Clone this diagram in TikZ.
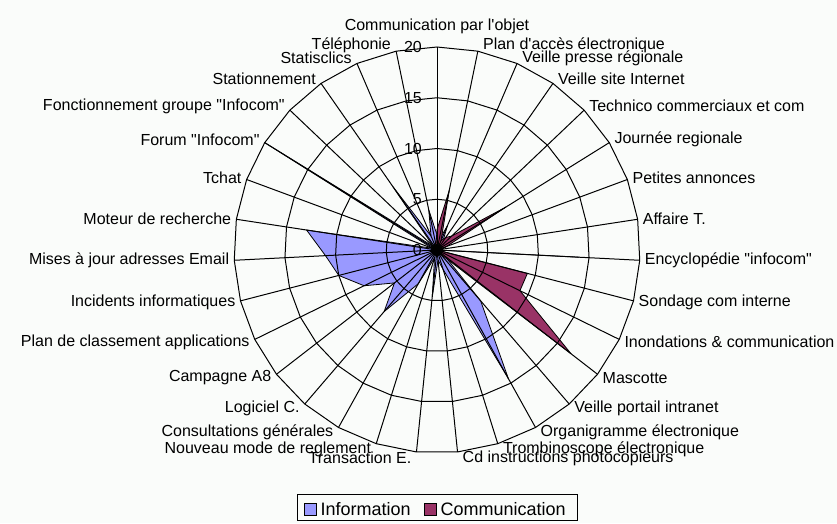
\documentclass[tikz,border=0pt]{standalone}
\usepackage{tikz}
\usetikzlibrary{positioning}
\font\labfont="Liberation Sans" at 16pt
\font\keyfont="Liberation Sans" at 18pt
\definecolor{infoblue}{HTML}{9999FF}
\definecolor{commred}{HTML}{993366}
\definecolor{paper}{HTML}{FAFCFA}
\tikzset{
  lab/.style={font=\labfont, inner sep=1pt},
  scalelab/.style={font=\labfont, inner sep=1pt, anchor=east},
  radar/.style={draw=black, line width=1pt},
  ser/.style={draw=black, line width=0.8pt, line join=round},
  keybox/.style={draw=black, line width=0.8pt, minimum size=12pt, inner sep=0pt},
  keytext/.style={font=\keyfont, inner sep=1pt}
}
\begin{document}
\begin{tikzpicture}[x=1pt,y=1pt]
\useasboundingbox (-437,-273) rectangle (400,250);
\fill[paper] (-437,-273) rectangle (400,250);
\def\sc{10.15}

\filldraw[ser, fill=infoblue] (90:1.5*\sc) \foreach \v [count=\k] in {1,2.6,1,0.5,0.5,1,0,14,0,1,1,6.6,14.5,2,1,4.6,0.8,3.8,8,5.3,8,10,11,13,0.5,20,0.5,7.6,1.5,4} { -- ({90-\k*360/31}:\v*\sc) } -- cycle;
\filldraw[ser, fill=commred] (90:2*\sc) \foreach \v [count=\k] in {6,1,1.5,2,8,1,0.5,0,9.2,9.1,16.7,0.5,0.3,0.3,0.3,0.3,0.3,0.3,0.3,0.3,0.3,0.3,0.3,0.3,0.3,0.3,0.3,0.3,0.3,0.5} { -- ({90-\k*360/31}:\v*\sc) } -- cycle;

\foreach \r in {5,10,15,20}
  \draw[radar] (90:\r*\sc) \foreach \k in {1,...,30} { -- ({90-\k*360/31}:\r*\sc) } -- cycle;
\foreach \k in {0,...,30}
  \draw[radar] (0,0) -- ({90-\k*360/31}:20*\sc);
\node[circle, fill=black, minimum size=12pt, inner sep=0pt] (hub) at (0,0) {};

\node[scalelab] (s0) at (-14,0) {0};
\node[scalelab] (s5) at (-14,50.75) {5};
\node[scalelab] (s10) at (-14,101.5) {10};
\node[scalelab] (s15) at (-14,152.25) {15};
\node[scalelab] (s20) at (-14,203) {20};

\node[lab, anchor=south] (l0) at (0,215) {Communication par l'objet};
\node[lab, anchor=west] (l1) at (44.9,204.7) {Plan d'accès électronique};
\node[lab, anchor=west] (l2) at (84.1,192.1) {Veille presse régionale};
\node[lab, anchor=west] (l3) at (120,171.5) {Veille site Internet};
\node[lab, anchor=west] (l4) at (151.1,144) {Technico commerciaux et com};
\node[lab, anchor=west] (l5) at (176.3,110.6) {Journée regionale};
\node[lab, anchor=west] (l6) at (194.4,72.6) {Petites annonces};
\node[lab, anchor=west] (l7) at (204.7,31.6) {Affaire T.};
\node[lab, anchor=west] (l8) at (206.7,-10.6) {Encyclopédie "infocom"};
\node[lab, anchor=west] (l9) at (200.5,-52.4) {Sondage com interne};
\node[lab, anchor=west] (l10) at (186.3,-92) {Inondations \& communication};
\node[lab, anchor=west] (l11) at (164.5,-128) {Mascotte};
\node[lab, anchor=west] (l12) at (136.2,-158.6) {Veille portail intranet};
\node[lab, anchor=west] (l13) at (102.5,-182.7) {Organigramme électronique};
\node[lab, anchor=west] (l14) at (64.8,-199.4) {Trombinoscope électronique};
\node[lab, anchor=west] (l15) at (24.5,-208) {Cd instructions photocopieurs};
\node[lab, anchor=east] (l16) at (-24.5,-208) {Transaction E.};
\node[lab, anchor=east] (l17) at (-64.8,-199.4) {Nouveau mode de reglement};
\node[lab, anchor=east] (l18) at (-102.5,-182.7) {Consultations générales};
\node[lab, anchor=east] (l19) at (-136.2,-158.6) {Logiciel C.};
\node[lab, anchor=east] (l20) at (-164.5,-128) {Campagne A8};
\node[lab, anchor=east] (l21) at (-186.3,-92) {Plan de classement applications};
\node[lab, anchor=east] (l22) at (-200.5,-52.4) {Incidents informatiques};
\node[lab, anchor=east] (l23) at (-206.7,-10.6) {Mises à jour adresses Email};
\node[lab, anchor=east] (l24) at (-204.7,31.6) {Moteur de recherche};
\node[lab, anchor=east] (l25) at (-194.4,72.6) {Tchat};
\node[lab, anchor=east] (l26) at (-176.3,110.6) {Forum "Infocom"};
\node[lab, anchor=east] (l27) at (-151.1,144) {Fonctionnement groupe "Infocom"};
\node[lab, anchor=east] (l28) at (-120,171.5) {Stationnement};
\node[lab, anchor=east] (l29) at (-84.1,192.1) {Statisclics};
\node[lab, anchor=east] (l30) at (-44.9,204.7) {Téléphonie};

\node[draw=black, line width=0.8pt, minimum width=280pt, minimum height=26pt] (legend) at (0,-257) {};
\node[keybox, fill=infoblue] (kinfo) at (-127,-259) {};
\node[keytext, right=3pt of kinfo] (tinfo) {Information};
\node[keybox, fill=commred] (kcomm) at (-7,-259) {};
\node[keytext, right=3pt of kcomm] (tcomm) {Communication};
\end{tikzpicture}
\end{document}
